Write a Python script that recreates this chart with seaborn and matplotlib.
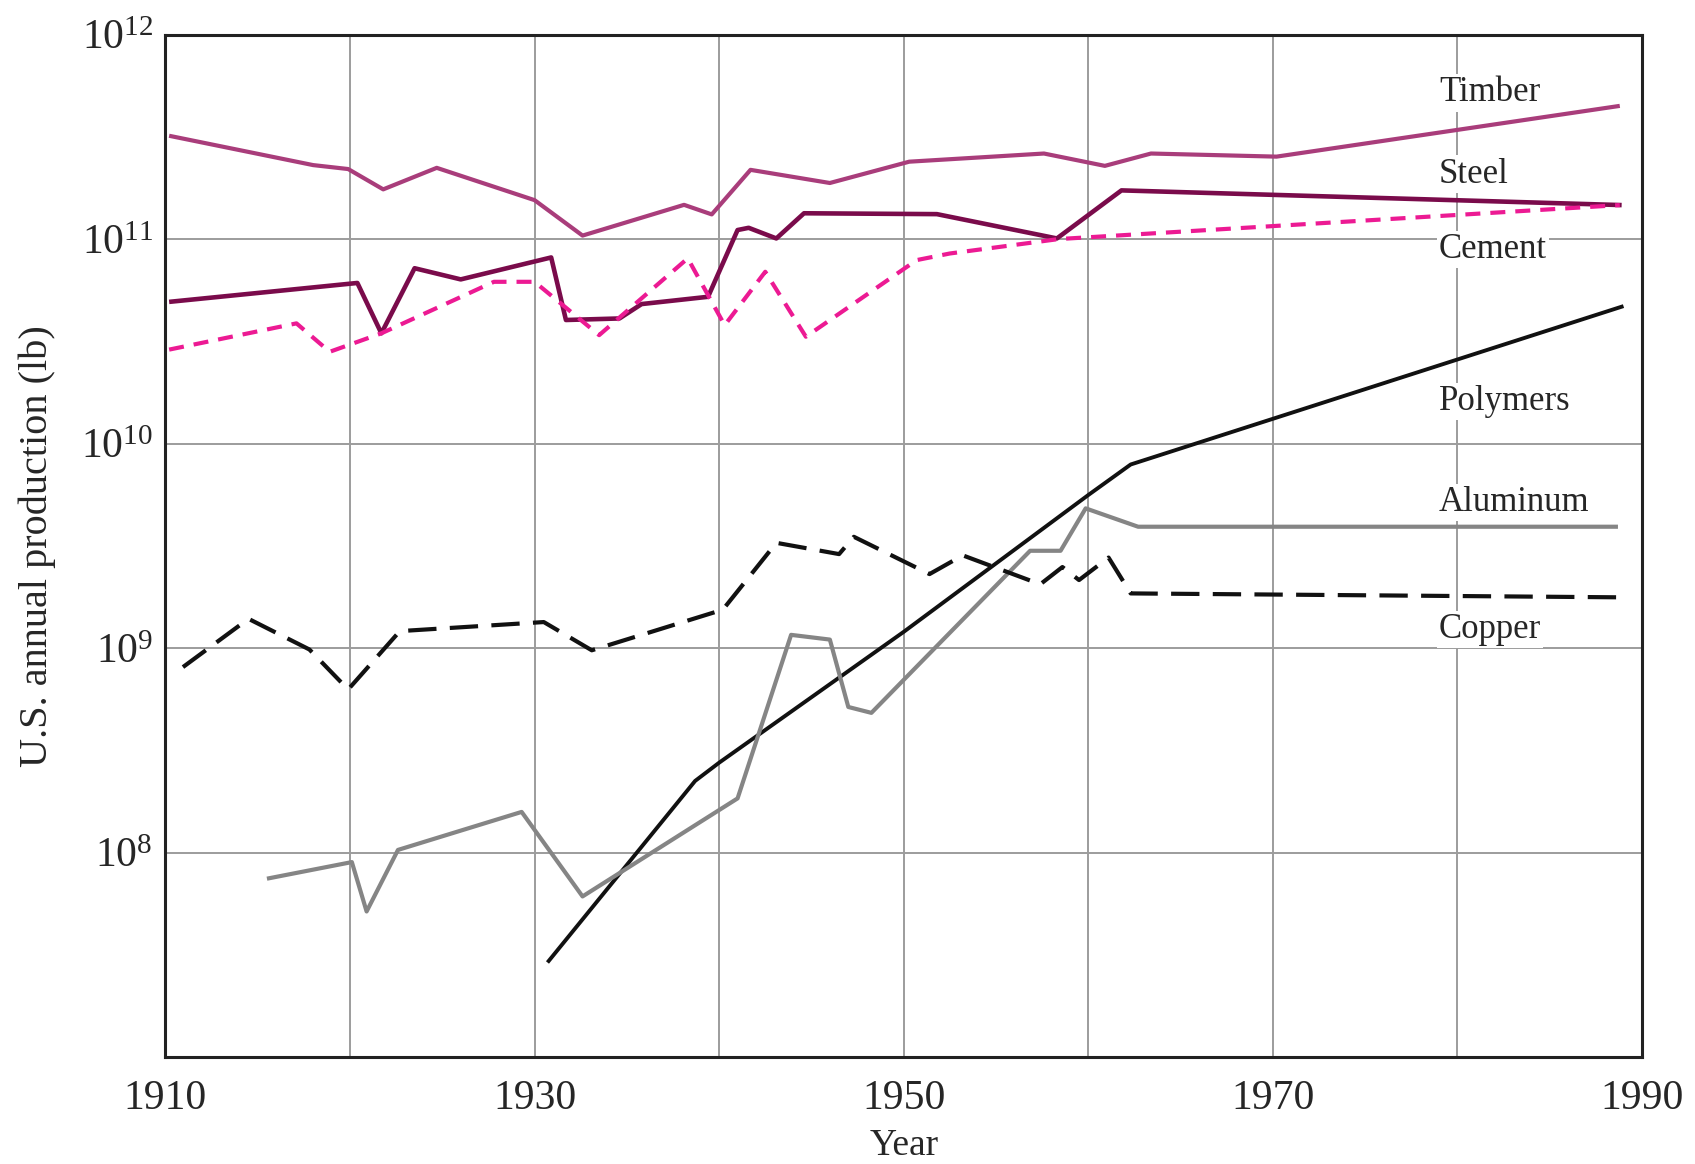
import numpy as np
import pandas as pd
import matplotlib
matplotlib.use("Agg")
import matplotlib.pyplot as plt
import matplotlib.ticker as mticker
import seaborn as sns

# values (year, lb per year)
timber_years = [1910.2, 1918.0, 1919.9, 1921.8, 1924.7, 1930.0, 1932.6, 1938.1, 1939.6,
                1941.7, 1946.0, 1950.3, 1957.6, 1960.9, 1963.4, 1970.2, 1988.8]
timber_vals = [3.2e11, 2.3e11, 2.2e11, 1.75e11, 2.23e11, 1.55e11, 1.04e11, 1.47e11, 1.32e11,
               2.18e11, 1.88e11, 2.39e11, 2.62e11, 2.28e11, 2.62e11, 2.53e11, 4.48e11]

steel_years = [1910.2, 1920.4, 1921.7, 1923.5, 1926.0, 1930.9, 1931.7, 1934.6, 1935.8,
               1939.4, 1941.0, 1941.6, 1943.1, 1944.6, 1951.8, 1958.3, 1961.8, 1988.9]
steel_vals = [4.93e10, 6.1e10, 3.46e10, 7.2e10, 6.35e10, 8.13e10, 4.02e10, 4.09e10, 4.81e10,
              5.22e10, 1.107e11, 1.135e11, 1.007e11, 1.337e11, 1.324e11, 1.007e11, 1.73e11, 1.466e11]

cement_years = [1910.2, 1917.1, 1918.9, 1921.7, 1927.8, 1930.0, 1933.5, 1938.3, 1940.3,
                1942.5, 1944.7, 1950.7, 1952.5, 1958.4, 1988.8]
cement_vals = [2.88e10, 3.87e10, 2.81e10, 3.46e10, 6.18e10, 6.18e10, 3.39e10, 8.05e10, 3.79e10,
               6.92e10, 3.33e10, 7.89e10, 8.5e10, 1.0e11, 1.466e11]

polymer_years = [1930.7, 1938.7, 1940.0, 1950.0, 1960.0, 1962.3, 1989.0]
polymer_vals = [2.9e7, 2.24e8, 2.75e8, 1.2e9, 5.6e9, 7.9e9, 4.7e10]

aluminum_years = [1915.5, 1920.1, 1920.9, 1922.6, 1929.3, 1932.6, 1941.0, 1943.9, 1946.0,
                  1947.0, 1948.25, 1956.85, 1958.5, 1959.86, 1962.7, 1988.7]
aluminum_vals = [7.45e7, 8.98e7, 5.15e7, 1.03e8, 1.58e8, 6.1e7, 1.84e8, 1.16e9, 1.10e9,
                 5.15e8, 4.82e8, 2.99e9, 2.99e9, 4.82e9, 3.92e9, 3.92e9]

copper_years = [1910.95, 1914.5, 1917.8, 1919.9, 1922.7, 1930.5, 1933.1, 1940.2, 1943.1,
                1946.5, 1947.3, 1951.4, 1953.2, 1957.4, 1958.6, 1959.5, 1961.1, 1962.3, 1988.9]
copper_vals = [8.07e8, 1.39e9, 9.84e8, 6.27e8, 1.21e9, 1.34e9, 9.75e8, 1.54e9, 3.27e9,
               2.88e9, 3.5e9, 2.3e9, 2.84e9, 2.05e9, 2.49e9, 2.15e9, 2.77e9, 1.85e9, 1.77e9]

materials = ["Timber", "Steel", "Cement", "Polymers", "Aluminum", "Copper"]

series = {
    "Timber": (timber_years, timber_vals),
    "Steel": (steel_years, steel_vals),
    "Cement": (cement_years, cement_vals),
    "Polymers": (polymer_years, polymer_vals),
    "Aluminum": (aluminum_years, aluminum_vals),
    "Copper": (copper_years, copper_vals),
}

frames = pd.concat([pd.DataFrame({"year": y, "lb": v, "material": m})
                    for m, (y, v) in series.items()], ignore_index=True)

styles = {
    "Timber":   dict(color="#a93d7b", linewidth=3.0, linestyle="-"),
    "Steel":    dict(color="#7a0b4b", linewidth=3.3, linestyle="-"),
    "Cement":   dict(color="#ec1a93", linewidth=3.0, linestyle=(0, (3.6, 2.4))),
    "Polymers": dict(color="#111111", linewidth=2.8, linestyle="-"),
    "Aluminum": dict(color="#858585", linewidth=3.0, linestyle="-"),
    "Copper":   dict(color="#111111", linewidth=3.0, linestyle=(0, (6.8, 3.2))),
}

# label anchor (year, y in lb) on the right of the plot
label_pos = {
    "Timber": (1979.0, 5.18e11),
    "Steel": (1979.0, 2.08e11),
    "Cement": (1979.0, 8.9e10),
    "Polymers": (1979.0, 1.61e10),
    "Aluminum": (1979.0, 5.15e9),
    "Copper": (1979.0, 1.23e9),
}

sns.set_style("white")
plt.rcParams['font.family'] = ['Liberation Serif', 'DejaVu Serif']
plt.rcParams['mathtext.fontset'] = 'stix'

fig = plt.figure(figsize=(16.95, 11.64), dpi=100)
ax = fig.add_axes([0.0976, 0.0919, 0.8711, 0.8784])
ax.set_yscale('log')

for m in materials:
    d = frames[frames['material'] == m]
    sns.lineplot(data=d, x="year", y="lb", ax=ax, estimator=None, sort=False,
                 solid_capstyle="butt", zorder=3, **styles[m])

for m in materials:
    x, y = label_pos[m]
    ax.text(x, y, m, fontsize=25, va='center', ha='left', zorder=4,
            bbox=dict(facecolor='white', edgecolor='none', pad=1.5))

ax.set_xlim(1910, 1990)
ax.set_ylim(1e7, 1e12)
ax.set_xticks([1910, 1930, 1950, 1970, 1990])
ax.set_xticks([1920, 1940, 1960, 1980], minor=True)
ax.set_yticks([1e8, 1e9, 1e10, 1e11, 1e12])
ax.yaxis.set_minor_locator(mticker.NullLocator())
ax.yaxis.set_major_formatter(mticker.LogFormatterSciNotation())

ax.grid(which='both', axis='both', color='#9c9c9c', linewidth=1.4, zorder=1)
ax.set_axisbelow(True)
ax.tick_params(which='both', length=0, labelsize=30)
ax.tick_params(axis='x', pad=16)
ax.tick_params(axis='y', pad=9)

for s in ax.spines.values():
    s.set_linewidth(2.2)
    s.set_color('#222222')

ax.set_xlabel("Year", fontsize=27, labelpad=8)
ax.set_ylabel("U.S. annual production (lb)", fontsize=29, labelpad=18)

fig.savefig("out.png", dpi=100)
